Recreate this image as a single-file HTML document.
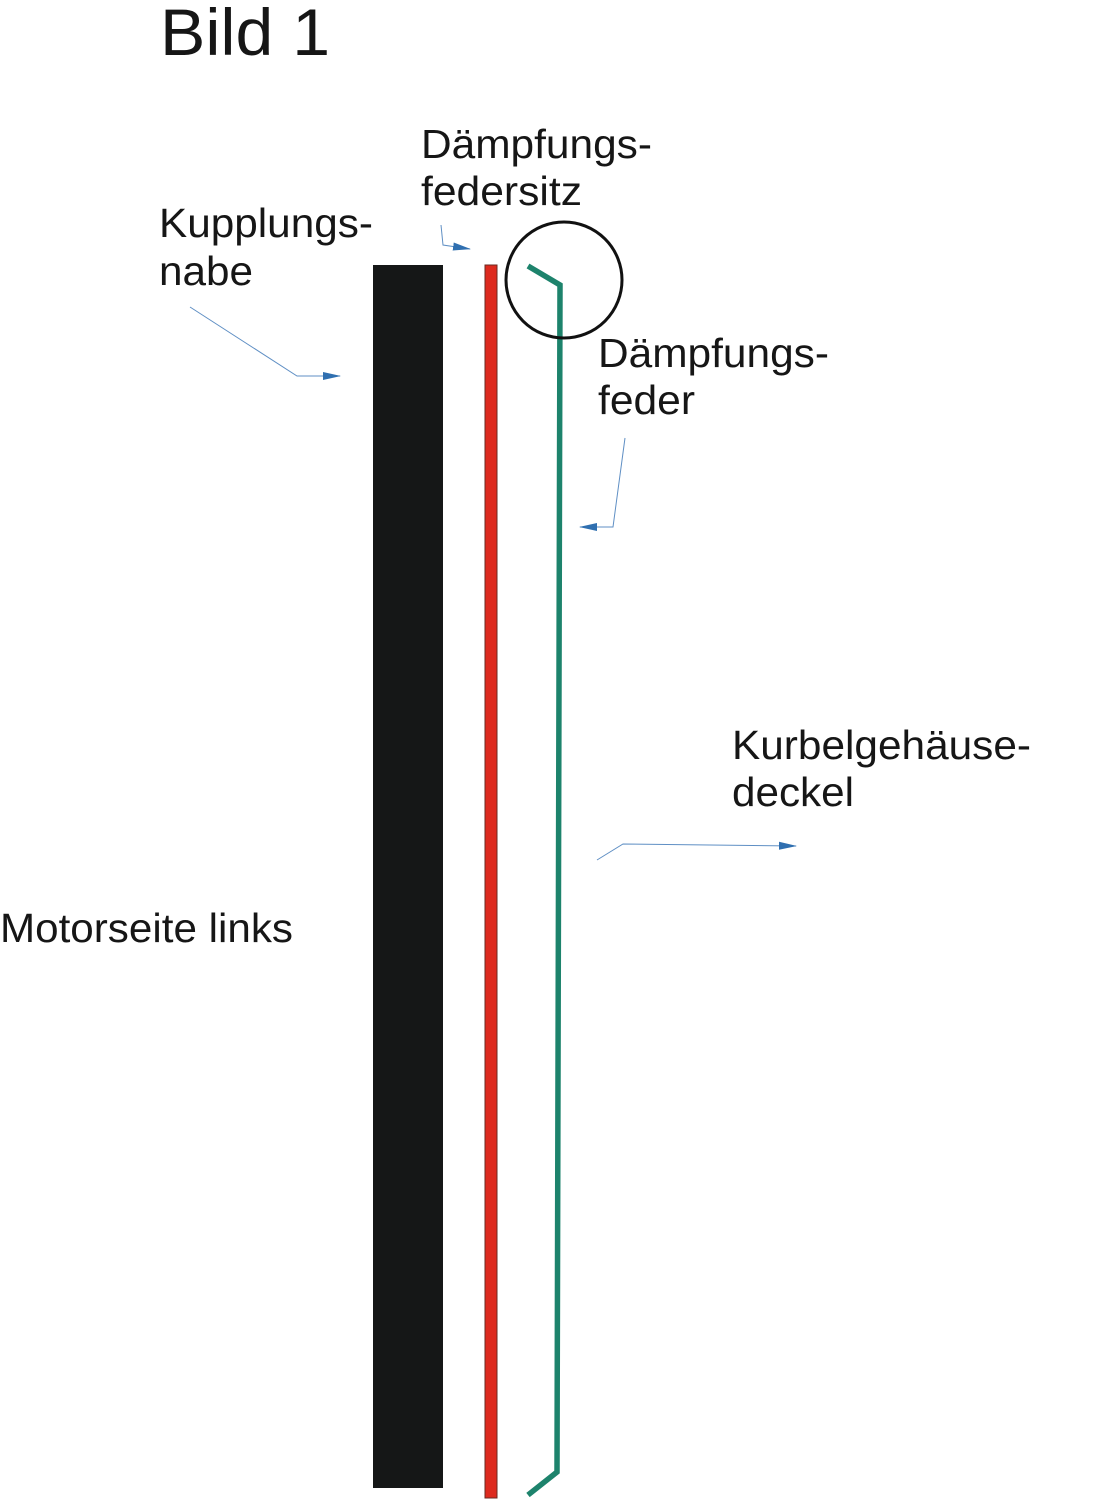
<!DOCTYPE html>
<html><head><meta charset="utf-8"><style>
html,body{margin:0;padding:0;background:#fff;width:1115px;height:1500px;overflow:hidden}
svg{display:block}
text{font-family:"Liberation Sans",sans-serif;fill:#161616}
</style></head><body>
<svg width="1115" height="1500" viewBox="0 0 1115 1500">
<defs><marker id="a" markerWidth="18" markerHeight="10" refX="17" refY="5" orient="auto" markerUnits="userSpaceOnUse"><path d="M0,1 L18,5 L0,9 Z" fill="#2f6fb0"/></marker></defs>
<text x="160" y="55" font-size="66" textLength="170" lengthAdjust="spacingAndGlyphs">Bild 1</text>
<text x="421" y="158" font-size="41" textLength="231" lengthAdjust="spacingAndGlyphs">Dämpfungs-</text>
<text x="421" y="205" font-size="41" textLength="161" lengthAdjust="spacingAndGlyphs">federsitz</text>
<text x="159" y="237" font-size="41" textLength="214" lengthAdjust="spacingAndGlyphs">Kupplungs-</text>
<text x="159" y="285" font-size="41" textLength="94" lengthAdjust="spacingAndGlyphs">nabe</text>
<text x="598" y="367" font-size="41" textLength="231" lengthAdjust="spacingAndGlyphs">Dämpfungs-</text>
<text x="598" y="414" font-size="41" textLength="97" lengthAdjust="spacingAndGlyphs">feder</text>
<text x="732" y="759" font-size="41" textLength="299" lengthAdjust="spacingAndGlyphs">Kurbelgehäuse-</text>
<text x="732" y="806" font-size="41" textLength="122" lengthAdjust="spacingAndGlyphs">deckel</text>
<text x="0" y="942" font-size="41" textLength="293" lengthAdjust="spacingAndGlyphs">Motorseite links</text>
<rect x="373" y="265" width="70" height="1223" fill="#151717"/>
<rect x="485" y="265" width="12" height="1233" fill="#dd2a1e" stroke="#6a2a22" stroke-width="1"/>
<polyline points="528,266 560,285 557,1472 528,1495" fill="none" stroke="#1d836c" stroke-width="5.5"/>
<circle cx="564" cy="280" r="58" fill="none" stroke="#111" stroke-width="3"/>
<g fill="none" stroke="#5f8fc4" stroke-width="1">
<polyline points="190,307 297,376 340,376" marker-end="url(#a)"/>
<polyline points="441,225 443,245 470,249" marker-end="url(#a)"/>
<polyline points="625,438 613,527 580,527" marker-end="url(#a)"/>
<polyline points="597,860 623,844 796,846" marker-end="url(#a)"/>
</g>
</svg>
</body></html>
